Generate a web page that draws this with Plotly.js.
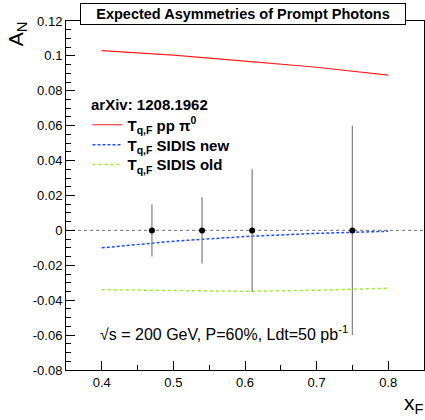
<!DOCTYPE html>
<html>
<head>
<meta charset="utf-8">
<script src="https://cdn.plot.ly/plotly-3.0.1.min.js"></script>
<style>html,body{margin:0;padding:0;background:#fff;}#chart{width:425px;height:420px;}</style>
</head>
<body>
<div id="chart"></div>
<script>
// Theory curves (arXiv: 1208.1962)
const curveX = [0.40, 0.50, 0.60, 0.70, 0.80];
const ppPi0 = [0.1030, 0.1005, 0.0970, 0.0935, 0.0890];
const sidisNew = [-0.0100, -0.0062, -0.0035, -0.0017, -0.0005];
const sidisOld = [-0.0340, -0.0345, -0.0349, -0.0343, -0.0331];

// Projected data points
const dataX = [0.47, 0.54, 0.61, 0.75];
const dataY = [0, 0, 0, 0];
const dataErr = [0.015, 0.019, 0.035, 0.060];

// Tick labels
const yTickVals = [-0.08, -0.06, -0.04, -0.02, 0, 0.02, 0.04, 0.06, 0.08, 0.1, 0.12];
const yTickText = ['-0.08', '-0.06', '-0.04', '-0.02', '0', '0.02', '0.04', '0.06', '0.08', '0.1', '0.12'];
const xTickVals = [0.4, 0.5, 0.6, 0.7, 0.8];
const xTickText = ['0.4', '0.5', '0.6', '0.7', '0.8'];

const FONT = 'Liberation Sans, Arial, Helvetica, sans-serif';

const traces = [
  {x: curveX, y: ppPi0, mode: 'lines', name: '<b>T<sub>q,F</sub> pp π<sup>0</sup></b>',
   legend: 'legend', line: {color: '#ff2020', width: 1.2}},
  {x: curveX, y: sidisNew, mode: 'lines', name: '<b>T<sub>q,F</sub> SIDIS new</b>',
   legend: 'legend2', line: {color: '#1f4fff', width: 1.5, dash: '3px,2px'}},
  {x: curveX, y: sidisOld, mode: 'lines', name: '<b>T<sub>q,F</sub> SIDIS old</b>',
   legend: 'legend3', line: {color: '#99ee33', width: 1.5, dash: 'dot'}},
  {x: dataX, y: dataY, mode: 'markers', showlegend: false,
   marker: {color: '#000', size: 6},
   error_y: {type: 'data', array: dataErr, visible: true, color: '#888', thickness: 1.3, width: 0}}
];

function legendAt(yPaper) {
  return {
    x: 0.06, y: yPaper, xanchor: 'left', yanchor: 'middle',
    bgcolor: 'rgba(0,0,0,0)', borderwidth: 0,
    font: {family: FONT, size: 15, color: '#000'},
    itemwidth: 30
  };
}

const layout = {
  width: 425, height: 420,
  margin: {l: 66, r: 1, t: 21, b: 50},
  paper_bgcolor: '#fff', plot_bgcolor: '#fff',
  font: {family: FONT, color: '#000', size: 13},
  showlegend: true,
  legend: legendAt(0.702),
  legend2: legendAt(0.645),
  legend3: legendAt(0.588),
  xaxis: {
    range: [0.35, 0.85], showgrid: false, zeroline: false,
    showline: true, linecolor: '#000', linewidth: 1, mirror: true,
    ticks: 'inside', ticklen: 9, tickcolor: '#000', tickwidth: 1,
    tickvals: xTickVals, ticktext: xTickText,
    tickfont: {family: FONT, size: 13, color: '#000'},
    minor: {dtick: 0.05, ticks: 'inside', ticklen: 5, tickcolor: '#000', showgrid: false}
  },
  yaxis: {
    range: [-0.08, 0.12], showgrid: false, zeroline: false,
    showline: true, linecolor: '#000', linewidth: 1, mirror: true,
    ticks: 'inside', ticklen: 9, tickcolor: '#000', tickwidth: 1,
    tickvals: yTickVals, ticktext: yTickText,
    tickfont: {family: FONT, size: 13, color: '#000'},
    minor: {dtick: 0.005, tick0: 0, ticks: 'inside', ticklen: 5, tickcolor: '#000', showgrid: false}
  },
  shapes: [
    {type: 'line', xref: 'paper', x0: 0, x1: 1, yref: 'y', y0: 0, y1: 0,
     line: {color: '#888', width: 1.2, dash: 'dot'}, layer: 'below'}
  ],
  annotations: [
    {text: '<b>Expected Asymmetries of Prompt Photons</b>', xref: 'paper', yref: 'paper',
     x: 0.494, y: 1.02, xanchor: 'center', yanchor: 'middle', showarrow: false,
     font: {family: FONT, size: 14.5, color: '#000'},
     bgcolor: '#fff', bordercolor: '#000', borderwidth: 1, borderpad: 1,
     width: 322, height: 18},
    {text: '<b>arXiv: 1208.1962</b>', xref: 'paper', yref: 'paper', x: 0.064, y: 0.762,
     xanchor: 'left', yanchor: 'middle', showarrow: false,
     font: {family: FONT, size: 15, color: '#000'}},
    {text: 'A<sub>N</sub>', xref: 'paper', yref: 'paper', x: -0.137, y: 0.965,
     xanchor: 'center', yanchor: 'middle', textangle: -90, showarrow: false,
     font: {family: FONT, size: 21, color: '#000'}},
    {text: 'x<sub>F</sub>', xref: 'paper', yref: 'paper', x: 0.972, y: -0.098,
     xanchor: 'center', yanchor: 'middle', showarrow: false,
     font: {family: FONT, size: 21, color: '#000'}},
    {text: '√s = 200 GeV, P=60%, Ldt=50 pb<sup>-1</sup>', xref: 'paper', yref: 'paper',
     x: 0.09, y: 0.105, xanchor: 'left', yanchor: 'middle', showarrow: false,
     font: {family: FONT, size: 16, color: '#000'}}
  ]
};

Plotly.newPlot('chart', traces, layout, {displayModeBar: false, staticPlot: true});
</script>
</body>
</html>
